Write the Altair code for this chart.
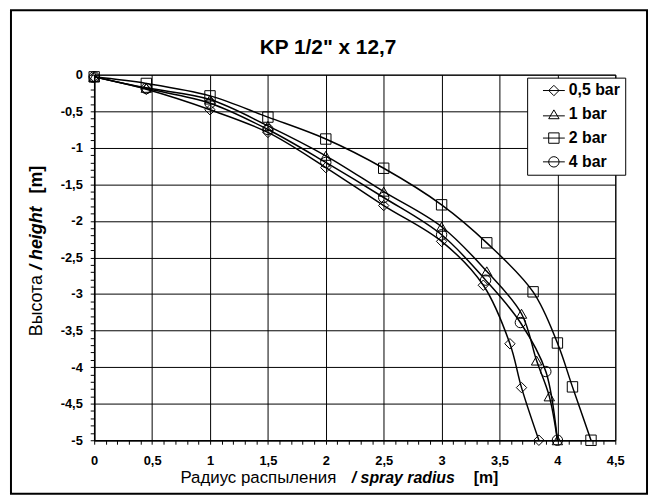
import altair as alt
import pandas as pd

# ---- data ----
series = ["0,5 bar", "1 bar", "2 bar", "4 bar"]
shapes = ["diamond", "triangle-up", "square", "circle"]

x_05 = [0, 0.45, 1, 1.5, 2, 2.5, 3, 3.36, 3.59, 3.69, 3.84]
y_05 = [-0.03, -0.2, -0.48, -0.79, -1.27, -1.79, -2.28, -2.88, -3.68, -4.28, -5.0]

x_1 = [0, 0.45, 1, 1.5, 2, 2.5, 3, 3.39, 3.69, 3.82, 3.93, 4.0]
y_1 = [-0.03, -0.18, -0.34, -0.70, -1.11, -1.6, -2.08, -2.69, -3.27, -3.91, -4.40, -5.0]

x_2 = [0, 0.45, 1, 1.5, 2, 2.5, 3, 3.39, 3.79, 4.0, 4.13, 4.29]
y_2 = [-0.03, -0.12, -0.29, -0.58, -0.88, -1.28, -1.78, -2.30, -2.97, -3.67, -4.27, -5.0]

x_4 = [0, 0.45, 1, 1.5, 2, 2.5, 3, 3.38, 3.68, 3.90, 4.0]
y_4 = [-0.03, -0.19, -0.39, -0.75, -1.2, -1.68, -2.19, -2.81, -3.39, -4.06, -5.0]

x_ticks = [round(i * 0.1, 1) for i in range(46)]
y_ticks = [round(-i * 0.1, 1) for i in range(51)]

title_text = 'KP 1/2" x 12,7'

rows = []
for name, xs, ys in zip(series, [x_05, x_1, x_2, x_4], [y_05, y_1, y_2, y_4]):
    for i, (xv, yv) in enumerate(zip(xs, ys)):
        rows.append({"series": name, "r": xv, "h": yv, "idx": i})
df = pd.DataFrame(rows)
one = pd.DataFrame({"a": [0]})

FONT = "Liberation Sans"
major = "abs(datum.value*2 - round(datum.value*2)) < 0.001"
label_expr = f"{major} ? replace(toString(datum.value), '.', ',') : ''"


def make_axis(vals, pad):
    return alt.Axis(
        values=vals, title=None, labelExpr=label_expr, labelFont=FONT,
        labelFontWeight="bold", labelFontSize=13, labelColor="black",
        labelOverlap=False, labelFlush=False, labelPadding=pad,
        tickSize=4, tickColor="black", tickWidth=1,
        domainColor="black", domainWidth=1.5,
        grid=True, gridColor="black", gridWidth=1,
        gridOpacity={"condition": {"test": major, "value": 1}, "value": 0},
    )


X = alt.X("r:Q", scale=alt.Scale(domain=[0, 4.5], nice=False, zero=False), axis=make_axis(x_ticks, 10))
Y = alt.Y("h:Q", scale=alt.Scale(domain=[-5, 0], nice=False, zero=False), axis=make_axis(y_ticks, 8))

base = alt.Chart(df)

lines = base.mark_line(color="black", strokeWidth=1.5, interpolate="catmull-rom").encode(
    x=X, y=Y, detail="series:N", order="idx:Q"
)

points = base.mark_point(filled=False, color="black", size=110, strokeWidth=1, opacity=1).encode(
    x=X, y=Y,
    shape=alt.Shape("series:N", scale=alt.Scale(domain=series, range=shapes), legend=None),
)

legend_paths = [
    "M-2.1,0H2.1M0,-1L1,0L0,1L-1,0Z",
    "M-2.1,0.3H2.1M0,-0.85L1,0.85H-1Z",
    "M-2.1,0H2.1M-1,-1H1V1H-1Z",
    "M-2.1,0H2.1M1,0A1,1,0,1,1,-1,0A1,1,0,1,1,1,0Z",
]

leg = base.transform_filter("false").mark_point(filled=False, color="black", strokeWidth=1, opacity=1).encode(
    x=X, y=Y,
    shape=alt.Shape(
        "series:N",
        scale=alt.Scale(domain=series, range=legend_paths),
        legend=alt.Legend(
            title=None, orient="none", legendX=437, legendY=3,
            fillColor="white", strokeColor="black", padding=5,
            symbolSize=110, symbolOffset=14, symbolStrokeColor="black",
            symbolStrokeWidth=1, symbolFillColor="transparent",
            labelFont=FONT, labelFontSize=16, labelFontWeight="bold",
            labelColor="black", labelOffset=7, rowPadding=8,
            labelExpr="datum.label + '\u00a0\u00a0'",
        ),
    ),
)

frame = alt.Chart(one).mark_rect(fillOpacity=0, stroke="black", strokeWidth=2).encode(
    x=alt.value(-84), x2=alt.value(558), y=alt.value(-65), y2=alt.value(423)
)


def txt(s, x, y, size, weight="normal", style="normal", angle=0, align="left", baseline="alphabetic"):
    return alt.Chart(one).mark_text(
        text=s, font=FONT, fontSize=size, fontWeight=weight, fontStyle=style,
        angle=angle, align=align, baseline=baseline, color="black",
    ).encode(x=alt.value(x), y=alt.value(y))


texts = [
    txt(title_text, 236, -21, 21, weight="bold", align="center"),
    txt("Радиус  распыления", 87, 412, 17),
    txt("/ spray radius", 260, 412, 16, weight="bold", style="italic"),
    txt("[m]", 383, 412, 16, weight="bold"),
    txt("Высота", -58, 264, 18, angle=270, baseline="middle"),
    txt("/ height", -58, 197, 18, weight="bold", style="italic", angle=270, baseline="middle"),
    txt("[m]", -58, 120, 18, weight="bold", angle=270, baseline="middle"),
]

chart = alt.layer(frame, lines, points, leg, *texts).resolve_scale(shape="independent").properties(
    width=526, height=369,
    autosize=alt.AutoSizeParams(type="none"),
    padding={"left": 87, "top": 65, "right": 34, "bottom": 56},
    background="white",
).configure_view(stroke="black", strokeWidth=1)

chart.save("out.html", embed_options={"renderer": "svg", "actions": False})
